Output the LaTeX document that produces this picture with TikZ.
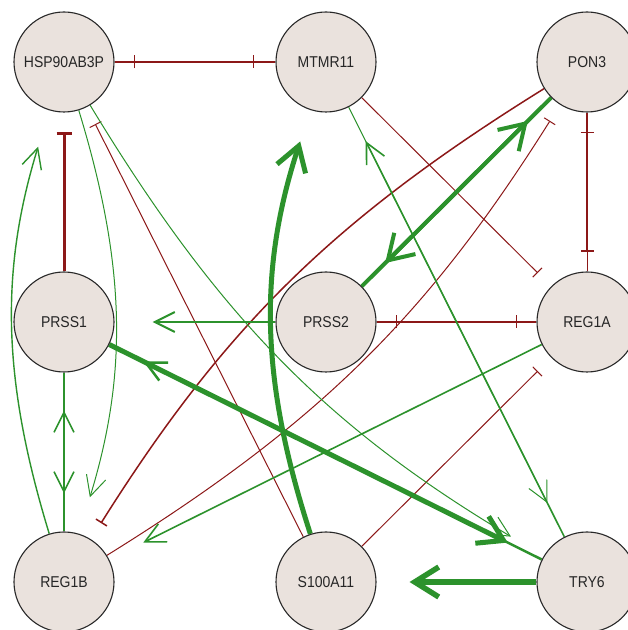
\documentclass[tikz,border=0pt]{standalone}
\usepackage{fontspec}
\usepackage{graphicx}
\setmainfont{Liberation Sans}
\usetikzlibrary{arrows.meta,backgrounds}
\definecolor{genefill}{RGB}{234,226,221}
\definecolor{actgreen}{RGB}{44,146,44}
\definecolor{inhred}{RGB}{140,24,24}
\definecolor{rim}{RGB}{40,40,40}
\newcommand{\genelabel}[1]{\scalebox{1}[1.12]{#1}}
\begin{document}
\begin{tikzpicture}[x=1pt,y=1pt,
  gene/.style={circle, draw=rim, line width=1.1pt, fill=genefill,
    minimum size=100pt, inner sep=0pt,
    font=\fontsize{14}{16}\selectfont, text=black!85},
  % activation: open arrowhead stopping short of the target
  act/.style={draw=actgreen, line width=#1,
    -{Straight Barb[length=20pt,width=20pt,line width=#1]}, shorten >=38pt},
  act/.default=1.6pt,
  actbig/.style={draw=actgreen, line width=#1,
    -{Straight Barb[length=24pt,width=30pt,line width=#1]}, shorten >=33pt},
  actbig/.default=5pt,
  % inhibition: bar stopping short of the target
  inh/.style={draw=inhred, line width=#1, -{Bar[width=13pt]}, shorten >=19pt},
  inh/.default=1pt]

\useasboundingbox (0,0) rectangle (628,630);

% genes on a 3 x 3 grid
\node[gene] (H)  at (64,568)  {\genelabel{HSP90AB3P}};
\node[gene] (M)  at (326,568) {\genelabel{MTMR11}};
\node[gene] (P)  at (587,568) {\genelabel{PON3}};
\node[gene] (S1) at (64,308)  {\genelabel{PRSS1}};
\node[gene] (S2) at (326,308) {\genelabel{PRSS2}};
\node[gene] (A)  at (587,308) {\genelabel{REG1A}};
\node[gene] (B)  at (64,48)   {\genelabel{REG1B}};
\node[gene] (C)  at (326,48)  {\genelabel{S100A11}};
\node[gene] (T)  at (587,48)  {\genelabel{TRY6}};

\begin{pgfonlayer}{background}
\fill[white] (0,0) rectangle (628,630);

% inhibitory interactions
\draw[inh=1.3pt, shorten >=21pt] (H) -- (M);
\draw[inh=1.3pt] (M) -- (H);
\draw[inh=2pt] (P) -- (A);
\draw[inh=1pt] (A) -- (P);
\draw[inh=3pt, -{Bar[width=15pt]}] (S1) -- (H);
\draw[inh=1.5pt] (S2) -- (A);
\draw[inh=1.5pt] (A) -- (S2);
\draw[inh=1.5pt] (P) to[bend right=13] (B);
\draw[inh=1pt] (B) to[bend right=13] (P);
\draw[inh=1pt] (M) -- (A);
\draw[inh=1pt] (C) -- (A);
\draw[inh=1pt] (C) -- (H);

% activating interactions
\draw[act=1.4pt] (B) to[bend left=17] (H);
\draw[act=1pt] (H) to[bend left=17] (B);
\draw[act=1.6pt] (B) -- (S1);
\draw[act=1.6pt] (S1) -- (B);
\draw[act=2pt] (S2) -- (S1);
\draw[act=1.6pt] (A) -- (B);
\draw[act=1.6pt] (T) -- (M);
\draw[act=1pt] (M) -- (T);
\draw[act=1pt] (H) to[bend right=14] (T);
\draw[act=2.5pt] (T) -- (S1);
\draw[actbig=5pt, shorten >=38pt] (S1) -- (T);
\draw[actbig=5.5pt] (T) -- (C);
\draw[actbig=5pt] (C) to[bend left=18] (M);
\draw[actbig=4pt] (S2) -- (P);
\draw[actbig=4pt] (P) -- (S2);
\end{pgfonlayer}
\end{tikzpicture}
\end{document}
